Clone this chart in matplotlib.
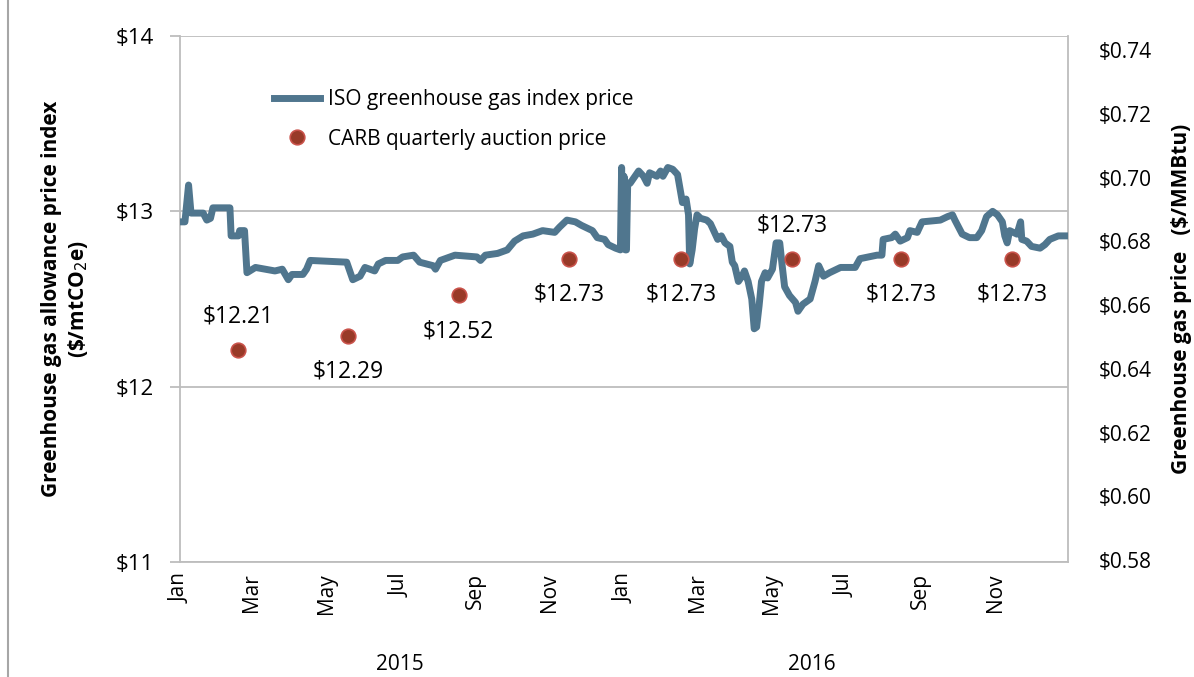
import numpy as np
import pandas as pd
import matplotlib
matplotlib.use("Agg")
import matplotlib.pyplot as plt
import matplotlib.dates as mdates
from matplotlib.lines import Line2D

plt.rcParams["font.family"] = ["Open Sans", "DejaVu Sans"]

# ── ISO greenhouse gas index price ($/mtCO2e) ──
iso_dates = [
    "2015-01-01", "2015-01-05", "2015-01-08", "2015-01-10", "2015-01-20", "2015-01-23",
    "2015-01-26", "2015-01-28", "2015-02-11", "2015-02-12", "2015-02-18", "2015-02-19",
    "2015-02-23", "2015-02-25", "2015-03-04", "2015-03-20", "2015-03-26", "2015-03-31",
    "2015-04-03", "2015-04-12", "2015-04-15", "2015-04-18", "2015-05-18", "2015-05-23",
    "2015-05-29", "2015-06-02", "2015-06-10", "2015-06-13", "2015-06-19", "2015-06-29",
    "2015-07-03", "2015-07-12", "2015-07-17", "2015-07-28", "2015-07-30", "2015-08-03",
    "2015-08-15", "2015-09-02", "2015-09-05", "2015-09-09", "2015-09-19", "2015-09-27",
    "2015-10-03", "2015-10-10", "2015-10-18", "2015-10-26", "2015-11-05", "2015-11-09",
    "2015-11-15", "2015-11-22", "2015-11-27", "2015-12-06", "2015-12-10", "2015-12-16",
    "2015-12-19", "2015-12-25", "2015-12-29", "2015-12-30", "2015-12-31", "2016-01-01",
    "2016-01-02", "2016-01-03", "2016-01-04", "2016-01-06", "2016-01-13", "2016-01-17",
    "2016-01-20", "2016-01-22", "2016-01-28", "2016-01-31", "2016-02-02", "2016-02-06",
    "2016-02-10", "2016-02-14", "2016-02-16", "2016-02-18", "2016-02-21", "2016-02-23",
    "2016-02-24", "2016-02-26", "2016-02-28", "2016-03-01", "2016-03-04", "2016-03-09",
    "2016-03-12", "2016-03-14", "2016-03-18", "2016-03-21", "2016-03-24", "2016-03-28",
    "2016-03-30", "2016-04-01", "2016-04-04", "2016-04-07", "2016-04-09", "2016-04-12",
    "2016-04-15", "2016-04-17", "2016-04-19", "2016-04-21", "2016-04-23", "2016-04-26",
    "2016-04-28", "2016-05-02", "2016-05-05", "2016-05-08", "2016-05-10", "2016-05-12",
    "2016-05-16", "2016-05-21", "2016-05-23", "2016-05-27", "2016-06-02", "2016-06-06",
    "2016-06-09", "2016-06-13", "2016-06-18", "2016-06-27", "2016-07-09", "2016-07-13",
    "2016-07-27", "2016-07-31", "2016-08-01", "2016-08-08", "2016-08-11", "2016-08-15",
    "2016-08-21", "2016-08-23", "2016-08-29", "2016-09-02", "2016-09-17", "2016-09-23",
    "2016-09-27", "2016-09-29", "2016-10-05", "2016-10-11", "2016-10-17", "2016-10-21",
    "2016-10-25", "2016-10-30", "2016-11-03", "2016-11-07", "2016-11-09", "2016-11-11",
    "2016-11-13", "2016-11-19", "2016-11-22", "2016-11-23", "2016-11-27", "2016-12-01",
    "2016-12-08", "2016-12-12", "2016-12-16", "2016-12-23", "2016-12-31",
]
iso_price = [
    12.94, 12.94, 13.15, 12.99, 12.99, 12.95,
    12.96, 13.02, 13.02, 12.86, 12.86, 12.89,
    12.89, 12.65, 12.68, 12.66, 12.67, 12.61,
    12.64, 12.64, 12.67, 12.72, 12.71, 12.61,
    12.63, 12.68, 12.66, 12.70, 12.72, 12.72,
    12.74, 12.75, 12.71, 12.69, 12.67, 12.72,
    12.75, 12.74, 12.72, 12.75, 12.76, 12.78,
    12.83, 12.86, 12.87, 12.89, 12.88, 12.91,
    12.95, 12.94, 12.92, 12.89, 12.85, 12.84,
    12.81, 12.79, 12.78, 13.25, 12.79, 13.20,
    12.78, 12.78, 13.16, 13.16, 13.23, 13.20,
    13.16, 13.22, 13.20, 13.23, 13.20, 13.25,
    13.24, 13.21, 13.13, 13.05, 13.07, 12.98,
    12.70, 12.78, 12.90, 12.98, 12.96, 12.95,
    12.93, 12.90, 12.84, 12.86, 12.82, 12.80,
    12.71, 12.69, 12.60, 12.63, 12.66, 12.60,
    12.50, 12.33, 12.34, 12.46, 12.60, 12.65,
    12.62, 12.67, 12.82, 12.82, 12.69, 12.57,
    12.52, 12.48, 12.43, 12.47, 12.50, 12.60,
    12.69, 12.63, 12.65, 12.68, 12.68, 12.73,
    12.75, 12.75, 12.84, 12.85, 12.87, 12.83,
    12.85, 12.89, 12.88, 12.94, 12.95, 12.97,
    12.98, 12.95, 12.87, 12.85, 12.85, 12.89,
    12.97, 13.00, 12.98, 12.94, 12.86, 12.82,
    12.89, 12.87, 12.94, 12.84, 12.83, 12.80,
    12.79, 12.81, 12.84, 12.86, 12.86,
]

# ── CARB quarterly auction settlement prices ──
auction_dates = ["2015-02-18", "2015-05-19", "2015-08-18", "2015-11-17",
                 "2016-02-17", "2016-05-18", "2016-08-16", "2016-11-15"]
auction_price = [12.21, 12.29, 12.52, 12.73, 12.73, 12.73, 12.73, 12.73]
label_above = [True, False, False, False, False, True, False, False]

month_ticks = pd.date_range("2015-01-01", "2016-12-01", freq="2MS")
month_labels = [d.strftime("%b") for d in month_ticks]
years = ["2015", "2016"]
year_label_at = ["2015-07-01", "2016-06-03"]

left_ticks = [11, 12, 13, 14]
right_ticks = [0.58, 0.60, 0.62, 0.64, 0.66, 0.68, 0.70, 0.72, 0.74]

LINE_C = "#50768E"
DOT_C = "#983A28"
GRID_C = "#BDBDBD"
FS = 15

x = pd.to_datetime(iso_dates)
xa = pd.to_datetime(auction_dates)

fig = plt.figure(figsize=(11.94, 6.77), dpi=100)
ax = fig.add_axes([0.1508, 0.1699, 0.7437, 0.7769])

ax.plot(x, iso_price, color=LINE_C, lw=5, solid_joinstyle="round", zorder=3,
        label="ISO greenhouse gas index price")
ax.plot(xa, auction_price, ls="none", marker="o", ms=10.5, mfc=DOT_C,
        mec="#C9524A", mew=1.2, zorder=4, label="CARB quarterly auction price")

for d, v, up in zip(xa, auction_price, label_above):
    off = 24 if up else -26
    ax.annotate(f"${v:.2f}", (d, v), xytext=(0, off), textcoords="offset points",
                ha="center", va="center", fontsize=16.5)

ax.set_xlim(pd.Timestamp("2015-01-01"), pd.Timestamp("2016-12-31"))
ax.set_ylim(11, 14)
ax.set_yticks(left_ticks)
ax.set_yticklabels([f"${t}" for t in left_ticks])
ax.yaxis.grid(True, color=GRID_C, lw=1.3)
ax.set_axisbelow(True)

ax.set_xticks(month_ticks)
ax.set_xticklabels(month_labels, rotation=90, va="top", ha="center")
ax.tick_params(axis="x", length=0, pad=8, labelsize=FS)
ax.tick_params(axis="y", length=7, color=GRID_C, width=1.3, pad=12, labelsize=16)

ax.spines["top"].set_visible(False)
for s in ["left", "bottom", "right"]:
    ax.spines[s].set_color(GRID_C)
    ax.spines[s].set_linewidth(1.3)

ax.set_ylabel("Greenhouse gas allowance price index\n(\\$/mtCO$_2$e)",
              fontsize=FS, fontweight="bold", labelpad=18, linespacing=1.25)

for yr, at in zip(years, year_label_at):
    ax.text(pd.Timestamp(at), -0.195, yr, transform=ax.get_xaxis_transform(),
            ha="center", va="center", fontsize=FS)

ax2 = ax.twinx()
ax2.set_ylim(0.5794, 0.7444)
ax2.set_yticks(right_ticks)
ax2.set_yticklabels([f"${t:.2f}" for t in right_ticks])
ax2.tick_params(axis="y", length=0, pad=22, labelsize=FS)
for s in ax2.spines.values():
    s.set_visible(False)
ax2.set_ylabel("Greenhouse gas price   ($/MMBtu)", fontsize=FS,
               fontweight="bold", labelpad=14)

ax.legend(loc="upper left", bbox_to_anchor=(0.085, 0.935), frameon=False,
          fontsize=FS, handlelength=2.2, handletextpad=0.4, labelspacing=0.9)

fig.add_artist(Line2D([0.007, 0.007], [0, 1], transform=fig.transFigure,
                      color="#A6A6A6", lw=1.5))

fig.savefig("out.png", dpi=100)
